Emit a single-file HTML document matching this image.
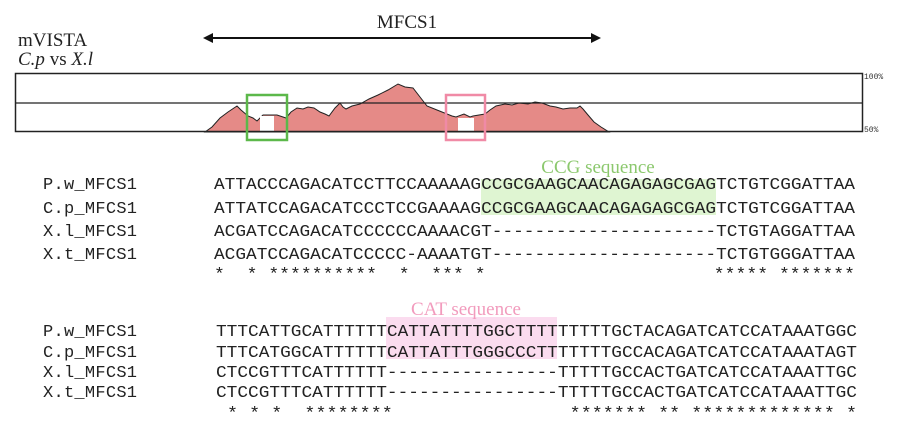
<!DOCTYPE html>
<html><head><meta charset="utf-8"><style>
html,body{margin:0;padding:0;background:#fff;}
svg{display:block}
.m{font-family:"Liberation Mono",monospace;font-size:17px;fill:#222}
.s{font-family:"Liberation Serif",serif;}
</style></head><body>
<svg width="900" height="432" viewBox="0 0 900 432" xmlns="http://www.w3.org/2000/svg">
<text x="18" y="46" class="s" font-size="19" fill="#222">mVISTA</text>
<text x="18" y="65" class="s" font-size="19" fill="#222"><tspan font-style="italic">C.p</tspan> vs <tspan font-style="italic">X.l</tspan></text>
<text x="407" y="28" class="s" font-size="19" fill="#222" text-anchor="middle">MFCS1</text>
<line x1="210" y1="38" x2="594" y2="38" stroke="#111" stroke-width="2"/>
<polygon points="203,38 213,33 213,43" fill="#111"/>
<polygon points="601,38 591,33 591,43" fill="#111"/>
<polygon fill="#e58a87" stroke="#222" stroke-width="1" points="205,132 212,127 220,118 228,112 237,106 241,110 248,116 253,118 257,121 263,115 277,115 283,117 286,118 291,112 297,108 303,109 308,107 314,108 320,112 325,114 329,116 335,108 340,103 343,107 346,109 352,106 360,104 369,99 378,95 388,90 398,84 405,87 413,88 420,97 427,106 437,110 447,114 452,116 456,117 464,114 470,117 473,116 479,115 485,114 490,110 496,106 505,104 512,105 519,103 528,104 535,102 542,103 550,106 556,107 563,109 570,108 577,108 580,106 583,109 588,115 594,122 601,127 609,132"/>
<rect x="260" y="116" width="14" height="16" fill="#fff"/>
<rect x="458" y="118" width="16" height="14" fill="#fff"/>
<rect x="15.5" y="73.5" width="847" height="58" fill="none" stroke="#222" stroke-width="1.5"/>
<line x1="15" y1="103" x2="862" y2="103" stroke="#222" stroke-width="1.3"/>
<text x="864" y="79" font-family="Liberation Mono,monospace" font-size="8" fill="#333">100%</text>
<text x="864" y="132" font-family="Liberation Mono,monospace" font-size="8" fill="#333">50%</text>
<rect x="247" y="95" width="40" height="45" fill="none" stroke="#5cb84a" stroke-width="2.5"/>
<rect x="446" y="95" width="39" height="45" fill="none" stroke="#f08aa6" stroke-width="2.5"/>

<rect x="481" y="179" width="235" height="36" fill="#dff5d2"/>
<text x="598" y="173" class="s" font-size="19" fill="#8cc86e" text-anchor="middle">CCG sequence</text>
<g class="m">
<text x="43" y="189" textLength="94">P.w_MFCS1</text>
<text x="43" y="213" textLength="94">C.p_MFCS1</text>
<text x="43" y="236" textLength="94">X.l_MFCS1</text>
<text x="43" y="259" textLength="94">X.t_MFCS1</text>
<text x="214" y="189" textLength="641" lengthAdjust="spacingAndGlyphs">ATTACCCAGACATCCTTCCAAAAAGCCGCGAAGCAACAGAGAGCGAGTCTGTCGGATTAA</text>
<text x="214" y="213" textLength="641" lengthAdjust="spacingAndGlyphs">ATTATCCAGACATCCCTCCGAAAAGCCGCGAAGCAACAGAGAGCGAGTCTGTCGGATTAA</text>
<text x="214" y="236" textLength="641" lengthAdjust="spacingAndGlyphs">ACGATCCAGACATCCCCCCAAAACGT---------------------TCTGTAGGATTAA</text>
<text x="214" y="259" textLength="641" lengthAdjust="spacingAndGlyphs">ACGATCCAGACATCCCCC-AAAATGT---------------------TCTGTGGGATTAA</text>
<text x="214" y="279" textLength="641" lengthAdjust="spacingAndGlyphs" xml:space="preserve">*  * **********  *  *** *                     ***** *******</text>
</g>

<rect x="386" y="317" width="171" height="42" fill="#fbdcef"/>
<text x="466" y="315" class="s" font-size="19" fill="#f29bbd" text-anchor="middle">CAT sequence</text>
<g class="m">
<text x="43" y="336" textLength="94">P.w_MFCS1</text>
<text x="43" y="357" textLength="94">C.p_MFCS1</text>
<text x="43" y="377" textLength="94">X.l_MFCS1</text>
<text x="43" y="397" textLength="94">X.t_MFCS1</text>
<text x="216" y="336" textLength="641" lengthAdjust="spacingAndGlyphs">TTTCATTGCATTTTTTCATTATTTTGGCTTTTTTTTTGCTACAGATCATCCATAAATGGC</text>
<text x="216" y="357" textLength="641" lengthAdjust="spacingAndGlyphs">TTTCATGGCATTTTTTCATTATTTGGGCCCTTTTTTTGCCACAGATCATCCATAAATAGT</text>
<text x="216" y="377" textLength="641" lengthAdjust="spacingAndGlyphs">CTCCGTTTCATTTTTT----------------TTTTTGCCACTGATCATCCATAAATTGC</text>
<text x="216" y="397" textLength="641" lengthAdjust="spacingAndGlyphs">CTCCGTTTCATTTTTT----------------TTTTTGCCACTGATCATCCATAAATTGC</text>
<text x="216" y="418" textLength="641" lengthAdjust="spacingAndGlyphs" xml:space="preserve"> * * *  ********                ******* ** ************* *</text>
</g>
</svg>
</body></html>
